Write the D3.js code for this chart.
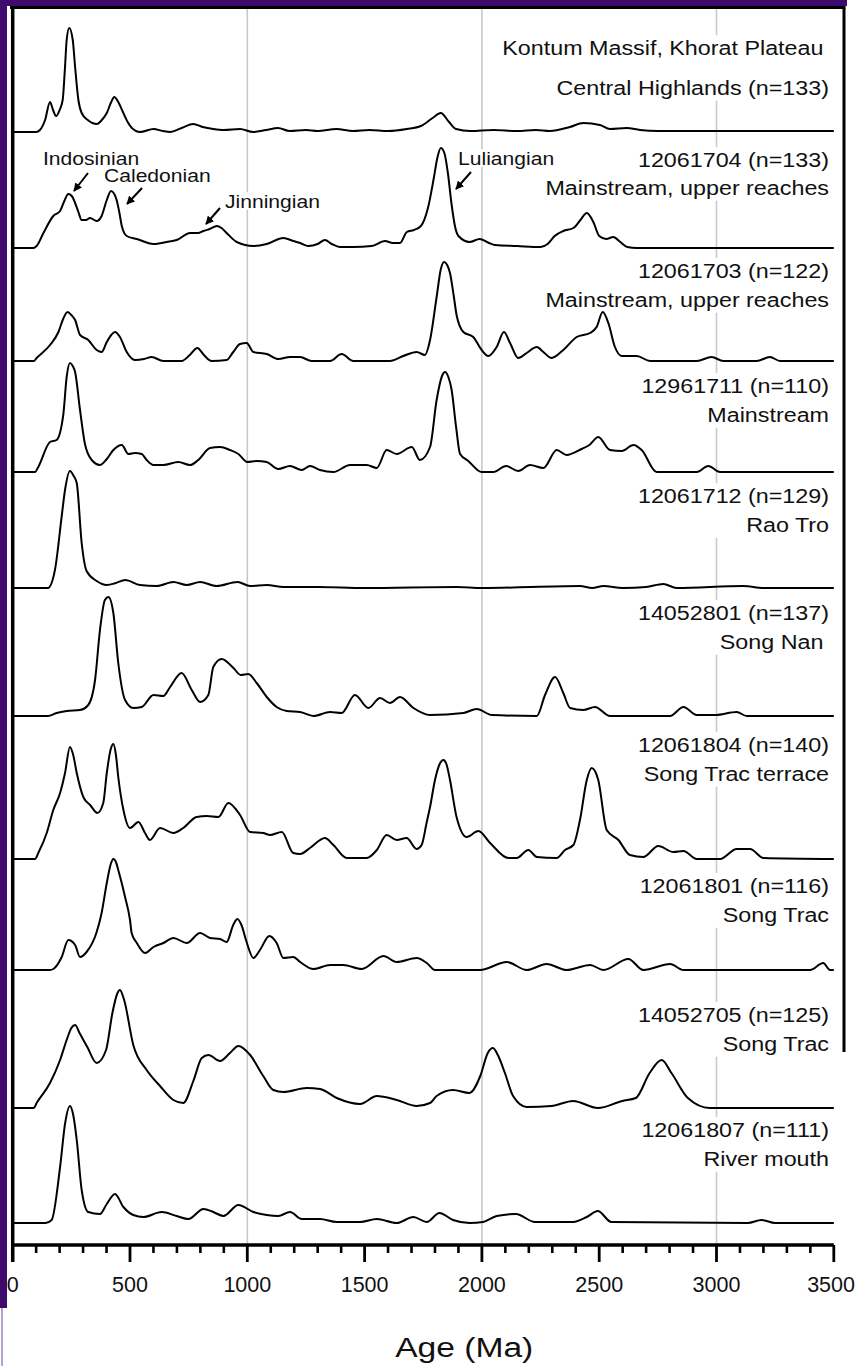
<!DOCTYPE html>
<html>
<head>
<meta charset="utf-8">
<script src="https://cdn.jsdelivr.net/npm/d3@7"></script>
<style>
  html, body { margin: 0; padding: 0; background: #ffffff; }
  svg { display: block; font-family: "Liberation Sans", Arial, sans-serif; }
</style>
</head>
<body>
<svg id="chart" width="856" height="1366"></svg>
<script>
// ---------- Axis ----------
const ageDomain = [0, 3500];
const majorTicks = [0, 500, 1000, 1500, 2000, 2500, 3000, 3500];
const minorTicks = d3.range(0, 3501, 100);
const gridAges = [1000, 2000, 3000];
const axisTitle = "Age (Ma)";

// ---------- Sample labels (two lines each) ----------
const labelLine1 = [
  "Kontum Massif, Khorat Plateau",
  "12061704 (n=133)",
  "12061703 (n=122)",
  "12961711 (n=110)",
  "12061712 (n=129)",
  "14052801 (n=137)",
  "12061804 (n=140)",
  "12061801 (n=116)",
  "14052705 (n=125)",
  "12061807 (n=111)"
];
const labelLine2 = [
  "Central Highlands (n=133)",
  "Mainstream, upper reaches",
  "Mainstream, upper reaches",
  "Mainstream",
  "Rao Tro",
  "Song Nan",
  "Song Trac terrace",
  "Song Trac",
  "Song Trac",
  "River mouth"
];

// ---------- Orogenic event annotations ----------
const eventNames = ["Indosinian", "Caledonian", "Jinningian", "Luliangian"];

// ---------- Probability density curves: [age (Ma), relative probability] ----------
const kontum = [[0,0],[100,0],[116,2],[138,12],[159,30],[172,22],[185,16],[200,22],[213,32],[223,65],[230,92],[241,104],[256,92],[266,65],[280,32],[294,19],[320,12],[359,8],[380,12],[401,19],[420,30],[433,35],[450,30],[466,22],[490,10],[508,4],[543,0],[600,3],[640,1],[671,0],[720,4],[770,8],[810,5],[855,3],[900,2],[969,3],[1025,0],[1080,2],[1131,4],[1180,1],[1250,2],[1300,1],[1380,3],[1450,1],[1520,2],[1600,1],[1680,3],[1740,6],[1790,14],[1825,19],[1860,10],[1890,3],[1950,1],[2050,2],[2150,1],[2230,2],[2290,1],[2375,5],[2432,9],[2503,7],[2546,3],[2617,4],[2674,2],[2750,1],[3500,1]];

const s12061704 = [[0,0],[88,0],[102,2],[131,15],[173,32],[202,37],[220,47],[237,54],[252,52],[266,45],[280,36],[294,28],[312,28],[330,30],[358,27],[379,32],[401,48],[419,57],[433,54],[443,48],[455,35],[465,22],[486,12],[529,9],[600,4],[656,6],[699,8],[756,15],[790,15],[813,17],[840,19],[870,22],[890,20],[912,15],[955,6],[1026,2],[1083,4],[1154,10],[1196,7],[1225,5],[1260,2],[1300,4],[1331,8],[1360,4],[1395,1],[1450,1],[1530,2],[1587,7],[1620,5],[1651,5],[1680,16],[1710,18],[1740,22],[1770,40],[1795,70],[1810,90],[1825,100],[1840,95],[1855,75],[1870,45],[1885,22],[1900,12],[1948,6],[1990,9],[2030,5],[2056,3],[2150,2],[2250,1],[2280,4],[2310,12],[2347,17],[2390,20],[2420,28],[2447,35],[2475,26],[2500,12],[2530,9],[2560,11],[2590,6],[2620,1],[2660,0],[3500,0]];

const s12061703 = [[0,0],[90,0],[102,3],[159,16],[195,29],[215,42],[234,49],[250,46],[266,41],[287,26],[322,21],[358,11],[379,9],[401,19],[420,26],[436,29],[457,24],[486,9],[521,1],[560,2],[592,4],[642,0],[720,0],[755,6],[787,13],[815,6],[848,0],[912,1],[940,9],[969,17],[997,18],[1026,9],[1083,7],[1132,2],[1182,4],[1225,4],[1274,0],[1353,0],[1402,7],[1452,0],[1608,0],[1665,5],[1722,9],[1757,6],[1779,21],[1807,64],[1825,92],[1839,99],[1852,96],[1864,88],[1880,65],[1892,46],[1921,29],[1963,24],[1999,11],[2027,5],[2063,14],[2094,29],[2120,18],[2155,3],[2191,8],[2234,14],[2262,9],[2297,3],[2347,11],[2404,24],[2461,28],[2489,34],[2515,49],[2539,38],[2567,14],[2596,5],[2660,5],[2717,0],[2916,0],[2979,4],[3029,0],[3171,0],[3228,4],[3271,0],[3500,0]];

const s12961711 = [[0,0],[95,0],[109,5],[159,30],[187,32],[216,58],[230,95],[244,109],[256,106],[266,100],[287,62],[308,28],[337,12],[372,7],[401,13],[429,22],[465,27],[493,18],[521,19],[550,18],[571,12],[600,7],[642,7],[706,10],[756,7],[791,12],[841,24],[884,25],[926,22],[962,18],[1000,10],[1040,11],[1083,10],[1132,3],[1182,6],[1232,2],[1267,6],[1310,2],[1367,0],[1438,7],[1509,7],[1552,4],[1594,22],[1637,18],[1701,25],[1736,12],[1779,25],[1807,72],[1830,96],[1843,100],[1857,95],[1871,82],[1890,45],[1907,18],[1942,11],[1999,0],[2049,0],[2103,6],[2155,1],[2205,7],[2262,4],[2319,22],[2361,17],[2425,23],[2458,27],[2496,35],[2546,22],[2596,21],[2646,27],[2681,22],[2745,0],[2916,0],[2965,6],[3015,0],[3500,0]];

const s12061712 = [[0,0],[150,0],[180,18],[209,72],[223,98],[244,117],[260,112],[273,105],[294,45],[315,17],[358,7],[401,3],[440,5],[479,8],[543,3],[614,2],[685,6],[742,3],[799,6],[869,2],[958,6],[1012,2],[1083,3],[1154,1],[1300,1],[1500,0],[1892,1],[2000,0],[2418,2],[2470,0],[2518,2],[2600,0],[2700,1],[2773,4],[2830,0],[3114,2],[3200,0],[3500,0]];

const s14052801 = [[0,0],[150,0],[187,3],[230,5],[287,6],[322,11],[351,36],[372,86],[393,116],[408,119],[429,103],[450,53],[479,16],[514,8],[550,9],[600,21],[642,20],[671,29],[720,43],[763,26],[799,14],[834,21],[855,49],[891,57],[941,48],[972,41],[1004,42],[1040,33],[1083,19],[1125,9],[1168,5],[1225,4],[1282,0],[1353,4],[1402,3],[1459,21],[1516,8],[1566,18],[1608,13],[1651,19],[1708,8],[1779,1],[1921,3],[1978,7],[2042,1],[2234,0],[2269,21],[2312,39],[2347,23],[2376,8],[2432,6],[2482,9],[2546,0],[2802,0],[2859,9],[2916,1],[2994,1],[3086,4],[3129,0],[3500,0]];

const s12061804 = [[0,0],[95,0],[109,6],[145,26],[173,49],[202,66],[223,86],[244,112],[258,104],[273,86],[301,62],[330,54],[361,46],[386,56],[401,86],[418,110],[429,115],[440,104],[450,82],[472,49],[500,31],[536,37],[564,26],[585,19],[628,31],[685,26],[727,31],[784,42],[827,43],[877,42],[919,56],[969,44],[1012,27],[1068,26],[1097,24],[1147,27],[1196,6],[1225,5],[1267,11],[1331,21],[1367,14],[1424,1],[1509,1],[1552,9],[1594,24],[1637,19],[1679,21],[1722,10],[1743,14],[1765,37],[1779,52],[1800,79],[1820,95],[1836,99],[1850,94],[1864,79],[1892,42],[1935,22],[1985,28],[2035,16],[2113,1],[2148,1],[2198,9],[2234,2],[2319,1],[2354,9],[2390,14],[2418,39],[2447,79],[2468,91],[2482,88],[2496,79],[2532,29],[2582,19],[2631,4],[2688,2],[2752,13],[2816,7],[2859,8],[2916,0],[3015,0],[3086,10],[3143,10],[3200,1],[3500,0]];

const s12061801 = [[0,0],[159,0],[173,1],[209,13],[237,30],[266,25],[287,13],[315,18],[358,38],[379,57],[401,87],[418,106],[429,111],[440,108],[450,100],[479,73],[500,50],[507,37],[529,27],[564,17],[600,23],[642,27],[685,32],[742,27],[799,37],[841,32],[884,31],[912,28],[940,45],[958,51],[975,45],[997,28],[1026,12],[1054,20],[1094,34],[1125,27],[1154,12],[1196,13],[1225,8],[1282,1],[1353,5],[1409,5],[1488,1],[1580,14],[1637,8],[1722,12],[1765,7],[1800,0],[1992,0],[2106,8],[2191,0],[2276,6],[2361,0],[2461,5],[2518,0],[2624,11],[2688,0],[2802,6],[2859,0],[3399,0],[3455,7],[3484,0],[3500,0]];

const s14052705 = [[0,0],[90,0],[102,5],[159,25],[202,48],[230,68],[250,80],[266,83],[285,75],[318,61],[358,45],[398,58],[425,95],[445,114],[457,118],[475,108],[514,63],[571,38],[628,22],[685,8],[727,5],[770,27],[806,50],[834,53],[884,47],[926,55],[962,62],[1012,53],[1068,32],[1111,18],[1154,16],[1253,20],[1310,19],[1381,10],[1481,4],[1552,12],[1637,8],[1722,2],[1779,5],[1807,12],[1877,18],[1947,15],[1993,32],[2025,55],[2047,60],[2070,52],[2098,35],[2133,12],[2191,1],[2296,2],[2389,7],[2494,0],[2598,7],[2656,10],[2715,35],[2766,48],[2808,35],[2878,10],[2971,0],[3500,0]];

const s12061807 = [[0,0],[140,0],[166,3],[202,56],[223,99],[244,117],[258,108],[273,83],[294,33],[322,11],[372,9],[401,19],[436,29],[472,16],[514,8],[557,6],[635,11],[699,7],[749,4],[813,14],[855,11],[898,7],[962,18],[1026,11],[1083,8],[1132,7],[1182,11],[1232,4],[1310,4],[1381,1],[1481,1],[1552,4],[1637,0],[1708,6],[1765,1],[1819,10],[1877,3],[1947,0],[2005,1],[2063,7],[2145,9],[2226,1],[2389,1],[2447,6],[2494,12],[2552,1],[3133,0],[3192,3],[3250,0],[3500,0]];

const series = [kontum, s12061704, s12061703, s12961711, s12061712,
                s14052801, s12061804, s12061801, s14052705, s12061807];

// ---------- Layout ----------
const W = 856, H = 1366;
const plotLeft = 12.7, plotRight = 833.8;
const frameTop = 7.5, frameRight = 844, frameRightEnd = 1052, axisY = 1245;
const curveBaseline = [132, 248, 361, 472, 588, 716, 859, 970, 1108, 1223];
// baselines of the first and second label lines
const labelY1 = [55, 167, 278, 393, 503, 620, 752, 893, 1022, 1137];
const labelY2 = [95, 195, 307, 422, 532, 649, 781, 922, 1051, 1166];
// lines that carry a trailing space in the source labels
const inset1 = [5, 0, 0, 0, 0, 0, 0, 0, 0, 0];
const inset2 = [0, 0, 0, 0, 0, 5, 0, 0, 0, 0];
const labelRight = 829;
const purple = "#3e0b6c";

const svg = d3.select("#chart");

const x = d3.scaleLinear().domain(ageDomain).range([plotLeft, plotRight]);
// vertical size of one unit of relative probability, shared by all curves
const yAmp = d3.scaleLinear().domain([0, 120]).range([0, 120]);

// ---------- Grid lines ----------
svg.append("g").selectAll("line").data(gridAges).join("line")
  .attr("x1", d => x(d)).attr("x2", d => x(d))
  .attr("y1", frameTop).attr("y2", axisY)
  .attr("stroke", "#c9c9c9").attr("stroke-width", 1.6);

// ---------- Sample labels with white backing ----------
const labelLayer = svg.append("g");
labelLine1.forEach((t1, i) => {
  const g = labelLayer.append("g")
    .attr("transform", `translate(${labelRight},0) scale(1.11,1)`);
  const txt = g.append("text")
    .attr("text-anchor", "end")
    .attr("font-size", 21)
    .attr("fill", "#111");
  txt.append("tspan").attr("x", -inset1[i]).attr("y", labelY1[i]).text(t1);
  txt.append("tspan").attr("x", -inset2[i]).attr("y", labelY2[i]).text(labelLine2[i]);
  const bb = txt.node().getBBox();
  g.insert("rect", "text")
    .attr("x", bb.x - 2).attr("y", bb.y - 1)
    .attr("width", bb.width + 4).attr("height", bb.height + 2)
    .attr("fill", "#fff");
});

// ---------- Curves ----------
const line = d3.line()
  .x(d => x(d[0]))
  .curve(d3.curveMonotoneX);

svg.append("g").selectAll("path").data(series).join("path")
  .attr("d", (s, i) => line.y(d => curveBaseline[i] - yAmp(d[1]))(s))
  .attr("fill", "none")
  .attr("stroke", "#000")
  .attr("stroke-width", 2)
  .attr("stroke-linejoin", "round");

// ---------- Event annotations ----------
const defs = svg.append("defs");
defs.append("marker")
  .attr("id", "arrowHead")
  .attr("viewBox", "0 0 10 10")
  .attr("refX", 9).attr("refY", 5)
  .attr("markerWidth", 4.2).attr("markerHeight", 4.2)
  .attr("orient", "auto")
  .append("path").attr("d", "M0,0 L10,5 L0,10 Z").attr("fill", "#000");

// text anchor points and arrow vectors (start -> tip)
const eventPlacement = [
  { tx: 43,  ty: 165, a: [88, 173, 74, 191] },
  { tx: 104, ty: 182, a: [142, 188, 127, 204] },
  { tx: 225, ty: 208, a: [220, 208, 206, 224] },
  { tx: 458, ty: 165, a: [471, 172, 456, 189] }
];
const evLayer = svg.append("g");
eventNames.forEach((name, i) => {
  const p = eventPlacement[i];
  const g = evLayer.append("g").attr("transform", `translate(${p.tx},${p.ty}) scale(1.14,1)`);
  const t = g.append("text").attr("font-size", 18.5).attr("fill", "#111").text(name);
  const bb = t.node().getBBox();
  g.insert("rect", "text").attr("x", bb.x - 1).attr("y", bb.y + 1)
    .attr("width", bb.width + 2).attr("height", bb.height - 3).attr("fill", "#fff");
  evLayer.append("line")
    .attr("x1", p.a[0]).attr("y1", p.a[1]).attr("x2", p.a[2]).attr("y2", p.a[3])
    .attr("stroke", "#000").attr("stroke-width", 2)
    .attr("marker-end", "url(#arrowHead)");
});

// ---------- Frame ----------
svg.append("line").attr("x1", 10).attr("x2", frameRight + 1.5)
  .attr("y1", frameTop).attr("y2", frameTop)
  .attr("stroke", "#000").attr("stroke-width", 3);
svg.append("line").attr("x1", frameRight).attr("x2", frameRight)
  .attr("y1", frameTop).attr("y2", frameRightEnd)
  .attr("stroke", "#000").attr("stroke-width", 3);

// ---------- X axis ----------
const axisG = svg.append("g").attr("transform", `translate(0,${axisY})`);
axisG.append("line").attr("x1", plotLeft).attr("x2", plotRight)
  .attr("stroke", "#000").attr("stroke-width", 3.5);
axisG.selectAll("line.minor").data(minorTicks.filter(d => d % 500 !== 0)).join("line")
  .attr("class", "minor")
  .attr("x1", d => x(d)).attr("x2", d => x(d)).attr("y1", 0).attr("y2", 8)
  .attr("stroke", "#000").attr("stroke-width", 2.6);
axisG.selectAll("line.major").data(majorTicks).join("line")
  .attr("class", "major")
  .attr("x1", d => x(d)).attr("x2", d => x(d)).attr("y1", 0).attr("y2", 17)
  .attr("stroke", "#000").attr("stroke-width", 2.8);
axisG.selectAll("text").data(majorTicks).join("text")
  .attr("x", d => d === 3500 ? 855 : x(d)).attr("y", 47)
  .attr("text-anchor", d => d === 3500 ? "end" : "middle")
  .attr("font-size", 21.5).attr("fill", "#111")
  .text(d => d);

// left axis line
svg.append("line").attr("x1", plotLeft).attr("x2", plotLeft)
  .attr("y1", frameTop - 1.5).attr("y2", axisY + 17)
  .attr("stroke", "#000").attr("stroke-width", 3.5);

svg.append("g").attr("transform", `translate(${(plotLeft + plotRight) / 2 + 41},1357) scale(1.2,1)`)
  .append("text").attr("text-anchor", "middle").attr("font-size", 28).attr("fill", "#111")
  .text(axisTitle);

// ---------- Outer purple border ----------
svg.append("rect").attr("x", 0).attr("y", 0).attr("width", 847).attr("height", 6).attr("fill", purple);
svg.append("rect").attr("x", 0).attr("y", 0).attr("width", 7).attr("height", 1308).attr("fill", purple);
svg.append("rect").attr("x", 1).attr("y", 1308).attr("width", 2).attr("height", H - 1308).attr("fill", "#b7a3cf");
</script>
</body>
</html>
